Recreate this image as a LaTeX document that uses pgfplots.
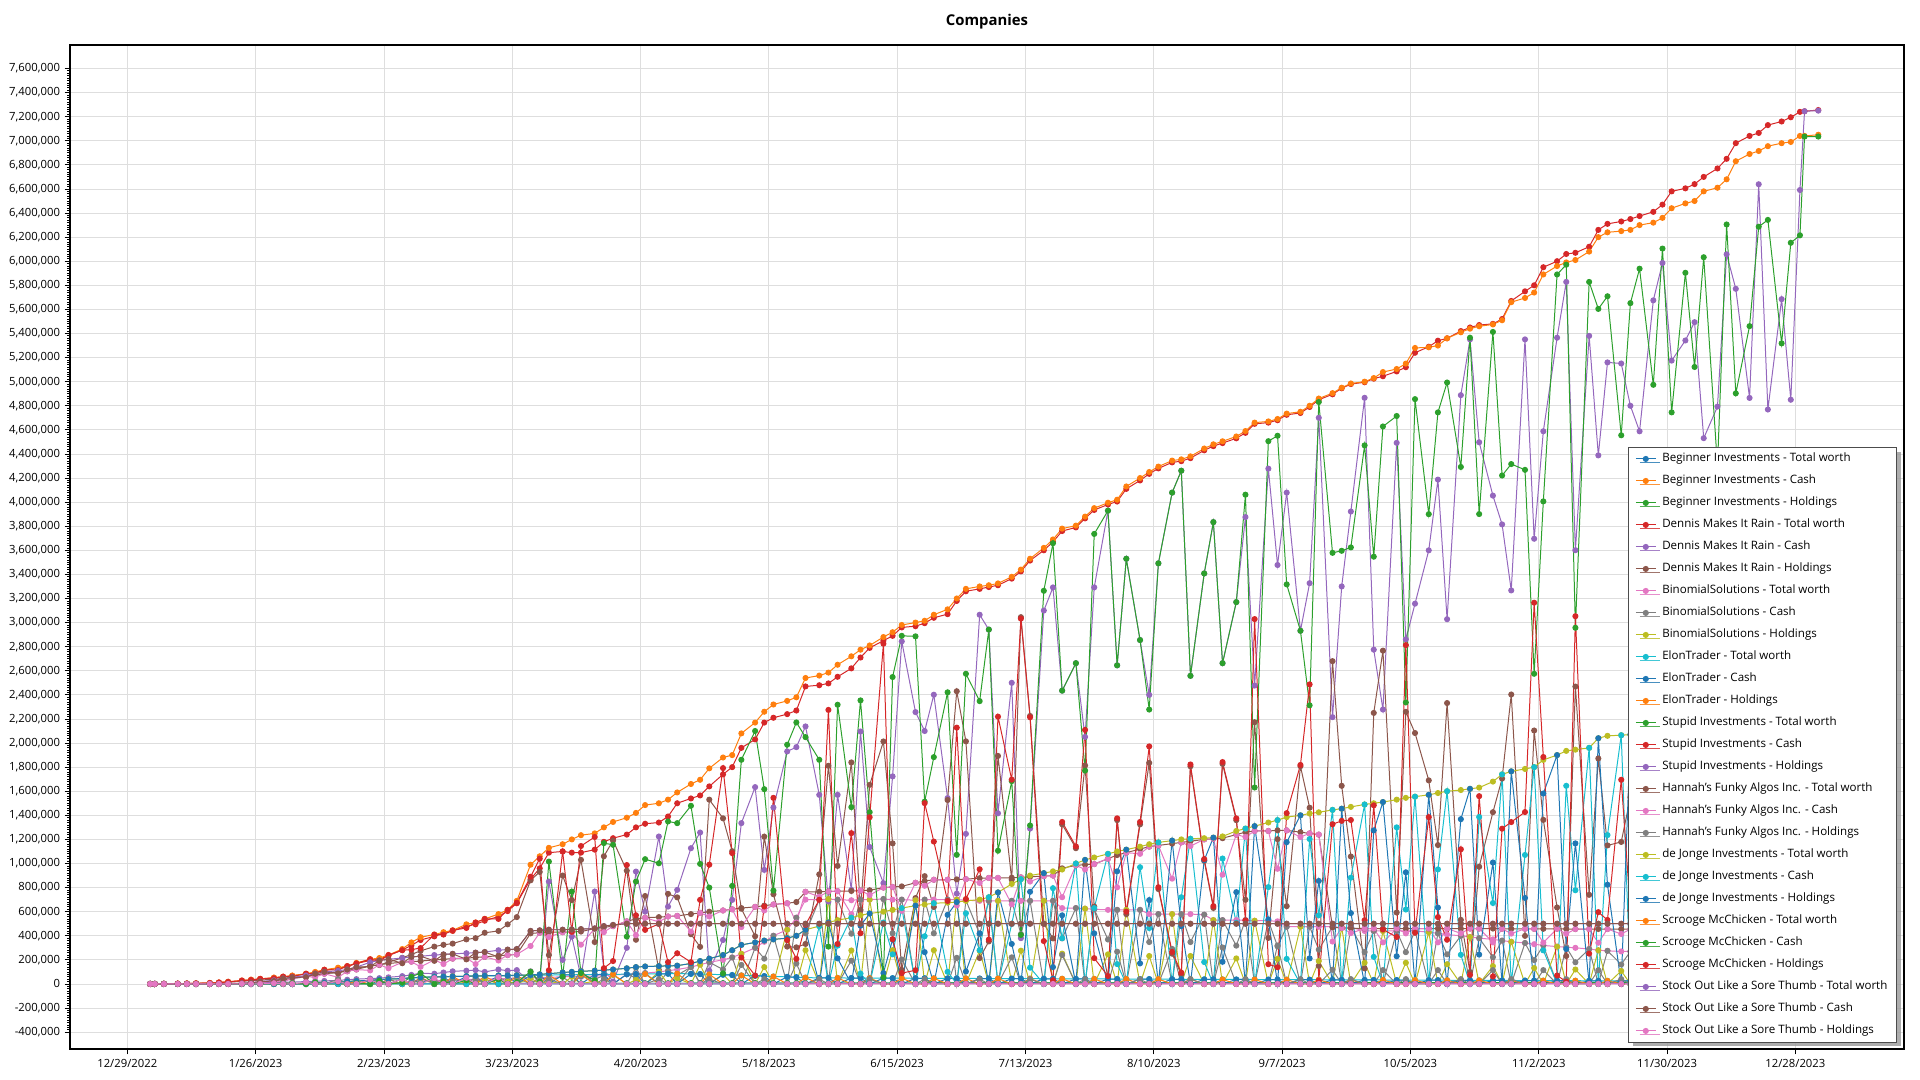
\documentclass[border=0pt]{standalone}
\usepackage{fontspec}
\setmainfont{Open Sans}
\usepackage{pgfplots}
\usepackage{pgfplotstable}
\pgfplotsset{compat=1.18}
\usetikzlibrary{shadows}
\definecolor{c0}{HTML}{1F77B4}
\definecolor{c1}{HTML}{FF7F0E}
\definecolor{c2}{HTML}{2CA02C}
\definecolor{c3}{HTML}{D62728}
\definecolor{c4}{HTML}{9467BD}
\definecolor{c5}{HTML}{8C564B}
\definecolor{c6}{HTML}{E377C2}
\definecolor{c7}{HTML}{7F7F7F}
\definecolor{c8}{HTML}{BCBD22}
\definecolor{c9}{HTML}{17BECF}
\pgfplotsset{ser/.style={color=#1, mark=*, mark size=1.9pt, line width=0.75pt, solid, mark options={solid}}}
% values in thousands; d = days after 12/29/2022
\pgfplotstableread{
d BIt BIc BIh DRt DRc DRh BSt BSc BSh ETt ETc ETh SIt SIc SIh HFt HFc HFh DJt DJc DJh SMt SMc SMh SOt SOc SOh
5 0 0 0 0 0 0 0 0 0 0 0 0 0 0 0 0 0 0 0 0 0 0 0 0 0 0 0
6 0 0 0 0 0 0 0 0 0 0 0 0 0 0 0 0 0 0 0 0 0 0 0 0 0 0 0
8 0 0 0 1 0 1 0 0 0 0 0 0 0 0 0 0 0 0 0 0 0 1 0 1 0 0 0
11 0 0 0 3 1 2 0 0 0 0 0 0 0 0 0 0 0 0 0 0 0 3 0 3 0 0 0
13 0 0 0 4 1 3 0 0 0 0 0 0 0 0 0 0 0 0 0 0 0 4 1 3 0 0 0
15 0 0 0 5 1 4 0 0 0 0 0 0 0 0 0 0 0 0 0 0 0 5 0 5 0 0 0
18 0 0 0 8 2 6 0 0 0 0 0 0 0 0 0 0 0 0 0 0 0 8 1 7 0 0 0
20 0 0 0 12 3 9 0 0 0 0 0 0 0 0 0 0 0 0 0 0 0 12 0 12 0 0 0
22 0 0 0 18 4 14 0 0 0 0 0 0 0 0 0 0 0 0 0 0 0 18 2 16 0 0 0
25 0 0 0 28 6 22 0 0 0 0 0 0 0 0 0 3 3 0 0 0 0 28 0 28 5 4 1
27 0 0 0 35 8 27 0 0 0 0 0 0 0 0 0 8 8 0 0 0 0 35 3 32 10 10 0
29 0 0 0 42 10 32 0 0 0 0 0 0 0 0 0 15 11 4 0 0 0 42 0 42 20 20 0
32 0 0 0 52 12 40 0 0 0 0 0 0 0 0 0 25 25 0 0 0 0 52 5 47 30 24 6
34 0 0 0 60 14 46 0 0 0 0 0 0 0 0 0 35 17 18 0 0 0 60 0 60 45 45 0
36 0 0 0 68 15 53 0 0 0 0 0 0 0 0 0 45 45 0 0 0 0 70 8 62 55 55 0
39 1 0 1 82 20 62 0 0 0 0 0 0 0 0 0 60 60 0 5 0 5 85 0 85 70 56 14
41 1 0 1 95 22 73 0 0 0 0 0 0 0 0 0 75 56 19 8 0 8 100 12 88 85 85 0
43 1 0 1 112 25 87 0 0 0 10 0 10 0 0 0 85 85 0 10 0 10 118 0 118 100 100 0
46 1 0 1 130 30 100 0 0 0 15 15 0 0 0 0 95 55 40 15 0 15 135 20 115 110 88 22
48 1 0 1 145 35 110 0 0 0 20 20 0 0 0 0 105 105 0 20 0 20 148 0 148 120 120 0
50 2 0 2 170 40 130 0 0 0 25 0 25 0 0 0 120 120 0 25 0 25 175 5 170 140 140 0
53 2 0 2 195 45 150 0 0 0 30 30 0 0 0 0 150 112 38 30 0 30 205 0 205 180 144 36
55 2 0 2 205 48 157 0 0 0 35 35 0 0 0 0 160 160 0 35 0 35 215 25 190 195 195 0
57 2 0 2 235 55 180 10 10 0 40 0 40 0 0 0 170 130 40 40 0 40 240 0 240 205 205 0
60 2 0 2 282 65 217 15 0 15 45 45 0 0 0 0 180 180 0 45 0 45 290 10 280 215 172 43
62 3 0 3 320 75 245 20 20 0 50 50 0 0 0 0 185 185 0 50 0 50 345 60 285 225 225 0
64 3 0 3 365 90 275 25 15 10 55 0 55 0 0 0 190 142 48 55 0 55 388 90 298 230 230 0
67 3 0 3 395 85 310 30 30 0 60 60 0 0 0 0 200 200 0 58 0 58 410 0 410 240 192 48
69 3 0 3 420 95 325 30 0 30 60 60 0 0 0 0 205 165 40 60 0 60 430 20 410 245 245 0
71 3 0 3 440 105 335 35 35 0 62 0 62 0 0 0 210 210 0 62 0 62 445 0 445 250 250 0
74 3 0 3 480 110 370 35 21 14 64 64 0 0 0 0 215 215 0 64 0 64 495 30 465 255 204 51
76 3 0 3 495 115 380 40 40 0 65 65 0 0 0 0 220 165 55 66 0 66 510 0 510 260 260 0
78 3 0 3 525 100 425 40 0 40 66 0 66 0 0 0 225 225 0 68 0 68 540 0 540 265 265 0
81 3 0 3 560 120 440 45 45 0 68 68 0 0 0 0 235 195 40 70 0 70 580 40 540 280 224 56
83 4 0 4 605 110 495 45 27 18 70 70 0 0 0 0 240 240 0 70 0 70 615 0 615 285 285 0
85 4 0 4 670 115 555 50 50 0 70 0 70 0 0 0 245 245 0 72 0 72 690 15 675 290 290 0
88 4 0 4 870 10 860 50 0 50 72 72 0 0 0 0 420 315 105 75 0 75 990 100 890 440 440 0
90 4 0 4 960 30 930 55 55 0 73 73 0 0 0 0 425 425 0 80 0 80 1060 20 1040 445 445 0
92 4 0 4 1090 850 240 55 33 22 74 0 74 0 0 0 430 390 40 85 0 85 1130 1016 114 450 450 0
95 4 0 4 1100 200 900 60 60 0 75 75 0 0 0 0 430 430 0 95 0 95 1160 60 1100 450 450 0
97 4 0 4 1090 393 697 60 0 60 76 76 0 0 0 0 432 432 0 100 0 100 1200 767 433 452 452 0
99 4 0 4 1090 60 1030 65 65 0 77 0 77 0 0 0 435 326 109 105 0 105 1235 90 1145 455 455 0
102 5 0 5 1115 767 348 65 39 26 78 78 0 0 0 0 460 460 0 110 0 110 1250 30 1220 460 460 0
104 5 0 5 1180 120 1060 70 70 0 79 79 0 0 0 0 470 430 40 115 0 115 1300 1169 131 480 480 0
106 5 0 5 1210 20 1190 75 0 75 80 0 80 0 0 0 480 480 0 120 0 120 1345 1155 190 490 490 0
109 5 0 5 1240 300 940 80 80 0 81 81 0 0 0 0 520 520 0 130 0 130 1380 393 987 500 500 0
111 5 0 5 1300 933 367 85 51 34 82 82 0 0 0 0 540 405 135 140 0 140 1420 850 570 500 500 0
113 5 0 5 1330 600 730 90 90 0 83 0 83 0 0 0 550 550 0 145 0 145 1485 1036 449 500 500 0
116 5 0 5 1340 1224 116 100 0 100 84 84 0 0 0 0 555 515 40 148 0 148 1500 1002 498 500 500 0
118 5 0 5 1390 642 748 110 110 0 85 85 0 0 0 0 560 560 0 150 0 150 1530 1349 181 500 500 0
120 5 0 5 1500 781 719 120 72 48 86 0 86 0 0 0 565 565 0 152 0 152 1590 1335 255 500 500 0
123 6 0 6 1540 1127 413 140 140 0 84 84 0 0 0 0 580 435 145 170 0 170 1660 1479 181 500 500 0
125 6 0 6 1565 1257 308 160 0 160 82 82 0 0 0 0 590 590 0 190 0 190 1695 997 698 500 500 0
127 6 0 6 1640 110 1530 180 180 0 80 0 80 0 0 0 600 560 40 210 0 210 1790 800 990 500 500 0
130 6 0 6 1740 365 1375 200 120 80 77 77 0 0 0 0 610 610 0 240 0 240 1880 88 1792 500 500 0
132 6 0 6 1800 698 1102 220 220 0 74 74 0 0 0 0 620 620 0 280 0 280 1900 814 1086 500 500 0
134 6 0 6 1960 1335 625 250 0 250 71 0 71 0 0 0 630 472 158 324 0 324 2080 1861 219 500 500 0
137 6 0 6 2030 1634 396 300 300 0 68 68 0 0 0 0 640 640 0 345 0 345 2170 2100 70 500 500 0
139 6 0 6 2170 947 1223 350 210 140 65 65 0 0 0 0 650 610 40 360 0 360 2260 1617 643 500 500 0
141 6 0 6 2210 1465 745 400 400 0 62 0 62 0 0 0 660 660 0 370 0 370 2320 775 1545 500 500 0
144 7 0 7 2240 1930 310 450 0 450 59 59 0 0 0 0 670 670 0 380 0 380 2350 1986 364 500 500 0
146 7 0 7 2270 1966 304 550 550 0 56 56 0 0 0 0 680 510 170 400 0 400 2380 2171 209 500 500 0
148 7 0 7 2470 2138 332 700 420 280 53 0 53 0 0 0 765 765 0 450 0 450 2540 2049 491 500 500 0
151 7 0 7 2480 1570 910 700 700 0 50 50 0 0 0 0 765 725 40 480 480 0 2560 1861 699 500 500 0
153 7 0 7 2495 684 1811 705 0 705 50 50 0 0 0 0 768 768 0 510 0 510 2585 310 2275 500 500 0
155 7 0 7 2550 1570 980 700 700 0 50 0 50 0 0 0 770 770 0 530 318 212 2650 2318 332 500 500 0
158 7 0 7 2620 781 1839 695 417 278 49 49 0 0 0 0 772 579 193 550 550 0 2720 1468 1252 500 500 0
160 7 0 7 2710 2096 614 700 700 0 49 49 0 0 0 0 775 775 0 570 86 484 2775 2354 421 500 500 0
162 7 0 7 2790 1137 1653 700 0 700 49 0 49 0 0 0 778 738 40 585 0 585 2810 1426 1384 500 500 0
165 7 0 7 2850 837 2013 705 705 0 48 48 0 0 0 0 800 800 0 600 510 90 2880 55 2825 500 500 0
167 7 0 7 2890 1723 1167 700 420 280 48 48 0 0 0 0 805 805 0 615 246 369 2920 2548 372 500 500 0
169 7 0 7 2960 2844 116 700 700 0 48 0 48 0 0 0 810 607 203 630 630 0 2980 2890 90 500 500 0
172 7 0 7 2970 2257 713 695 0 695 47 47 0 0 0 0 840 840 0 650 0 650 3000 2886 114 500 500 0
174 8 0 8 2995 2100 895 700 700 0 47 47 0 0 0 0 855 815 40 660 396 264 3015 1514 1501 500 500 0
176 8 0 8 3040 2401 639 700 420 280 47 0 47 0 0 0 865 865 0 670 670 0 3065 1883 1182 500 500 0
179 8 0 8 3070 1543 1527 700 700 0 46 46 0 0 0 0 865 865 0 675 101 574 3110 2421 689 500 500 0
181 8 0 8 3180 750 2430 700 0 700 46 46 0 0 0 0 868 651 217 680 0 680 3200 1072 2128 500 500 0
183 8 0 8 3260 1246 2014 695 695 0 46 0 46 0 0 0 870 870 0 690 587 103 3280 2575 705 500 500 0
186 8 0 8 3280 3065 215 690 414 276 45 45 0 0 0 0 878 838 40 700 280 420 3300 2348 952 500 500 0
188 8 0 8 3295 2942 353 690 690 0 45 45 0 0 0 0 880 880 0 720 720 0 3310 2942 368 500 500 0
190 8 0 8 3310 1417 1893 690 0 690 45 0 45 0 0 0 880 880 0 760 0 760 3325 1106 2219 500 500 0
193 8 0 8 3365 2500 865 690 690 0 44 44 0 0 0 0 882 661 221 830 498 332 3380 1684 1696 500 500 0
195 8 0 8 3425 380 3045 690 414 276 44 44 0 0 0 0 885 885 0 870 870 0 3440 407 3033 500 500 0
197 8 0 8 3515 1290 2225 690 690 0 44 0 44 0 0 0 890 850 40 900 135 765 3530 1316 2214 500 500 0
200 8 0 8 3600 3100 500 690 0 690 43 43 0 0 0 0 895 895 0 920 0 920 3620 3264 356 500 500 0
202 8 0 8 3670 3292 378 690 690 0 43 43 0 0 0 0 900 900 0 935 795 140 3690 3659 31 500 500 0
204 8 0 8 3760 2435 1325 630 378 252 43 0 43 0 0 0 960 720 240 950 380 570 3780 2435 1345 500 500 0
207 9 0 9 3790 2663 1127 630 630 0 42 42 0 0 0 0 985 985 0 1000 1000 0 3805 2663 1142 500 500 0
209 9 0 9 3865 2051 1814 625 0 625 42 42 0 0 0 0 990 950 40 1030 0 1030 3880 1771 2109 500 500 0
211 9 0 9 3935 3292 643 620 620 0 42 0 42 0 0 0 995 995 0 1050 630 420 3950 3736 214 500 500 0
214 9 0 9 3980 3929 51 615 369 246 41 41 0 0 0 0 1040 1040 0 1080 1080 0 3995 3929 66 500 500 0
216 9 0 9 4005 2645 1360 615 615 0 41 41 0 0 0 0 1070 802 268 1100 165 935 4020 2645 1375 500 500 0
218 9 0 9 4110 3530 580 615 0 615 41 0 41 0 0 0 1090 1090 0 1115 0 1115 4130 3530 600 500 500 0
221 9 0 9 4180 2855 1325 615 615 0 40 40 0 0 0 0 1120 1080 40 1140 969 171 4200 2855 1345 500 500 0
223 9 0 9 4235 2400 1835 580 348 232 40 40 0 0 0 0 1140 1140 0 1160 464 696 4250 2278 1972 500 500 0
225 9 0 9 4280 3492 788 580 580 0 40 0 40 0 0 0 1150 1150 0 1175 1175 0 4295 3492 803 500 500 0
228 9 0 9 4330 4079 251 580 0 580 39 39 0 0 0 0 1165 874 291 1190 0 1190 4345 4079 266 500 500 0
230 9 0 9 4340 4261 79 580 580 0 39 39 0 0 0 0 1175 1175 0 1200 720 480 4355 4261 94 500 500 0
232 9 0 9 4365 2558 1807 580 348 232 39 0 39 0 0 0 1185 1145 40 1205 1205 0 4380 2558 1822 500 500 0
235 9 0 9 4430 3408 1022 575 575 0 38 38 0 0 0 0 1200 1200 0 1210 182 1028 4445 3408 1037 500 500 0
237 10 0 10 4465 3834 631 530 0 530 38 38 0 0 0 0 1205 1205 0 1215 0 1215 4480 3834 646 500 500 0
239 10 0 10 4490 2663 1827 530 530 0 38 0 38 0 0 0 1210 907 303 1225 1041 184 4505 2663 1842 500 500 0
242 10 0 10 4530 3170 1360 530 318 212 37 37 0 0 0 0 1240 1240 0 1270 508 762 4545 3170 1375 500 500 0
244 10 0 10 4575 3876 699 530 530 0 37 37 0 0 0 0 1260 1220 40 1290 1290 0 4590 4062 528 500 500 0
246 10 0 10 4650 2477 2173 525 0 525 37 0 37 0 0 0 1270 1270 0 1310 0 1310 4660 1631 3029 500 500 0
249 10 0 10 4660 4278 382 525 525 0 36 36 0 0 0 0 1270 1270 0 1340 804 536 4670 4506 164 500 500 0
251 10 0 10 4680 3478 1202 520 312 208 36 36 0 0 0 0 1275 956 319 1360 1360 0 4690 4551 139 500 500 0
253 10 0 10 4725 4079 646 475 475 0 36 0 36 0 0 0 1275 1275 0 1385 208 1177 4735 3317 1418 500 500 0
256 10 0 10 4740 2932 1808 475 0 475 35 35 0 0 0 0 1260 1220 40 1400 0 1400 4750 2932 1818 500 500 0
258 10 0 10 4790 3327 1463 475 475 0 35 35 0 0 0 0 1250 1250 0 1415 1203 212 4800 2313 2487 500 500 0
260 10 0 10 4850 4700 150 475 285 190 35 0 35 0 0 0 1240 1240 0 1425 570 855 4860 4831 29 500 500 0
263 10 0 10 4895 2215 2680 475 475 0 34 34 0 0 0 0 470 352 118 1445 1445 0 4905 3579 1326 500 500 0
265 10 0 10 4945 3300 1645 470 0 470 34 34 0 0 0 0 465 465 0 1455 0 1455 4950 3596 1354 500 500 0
267 10 0 10 4980 3922 1058 470 470 0 34 0 34 0 0 0 462 422 40 1470 882 588 4985 3624 1361 500 500 0
270 11 0 11 4995 4866 129 440 264 176 33 33 0 0 0 0 460 460 0 1490 1490 0 5000 4471 529 500 500 0
272 11 0 11 5025 2775 2250 440 440 0 33 33 0 0 0 0 460 460 0 1500 225 1275 5030 3547 1483 500 500 0
274 11 0 11 5045 2278 2767 440 0 440 33 0 33 0 0 0 460 345 115 1510 0 1510 5080 4628 452 500 500 0
277 11 0 11 5085 4492 593 440 440 0 32 32 0 0 0 0 460 460 0 1530 1300 230 5105 4715 390 500 500 0
279 11 0 11 5120 2861 2259 440 264 176 32 32 0 0 0 0 460 420 40 1545 618 927 5150 2337 2813 500 500 0
281 11 0 11 5240 3157 2083 440 440 0 32 0 32 0 0 0 460 460 0 1555 1555 0 5280 4855 425 500 500 0
284 11 0 11 5290 3600 1690 430 0 430 31 31 0 0 0 0 460 460 0 1570 0 1570 5285 3900 1385 500 500 0
286 11 0 11 5340 4187 1153 420 420 0 31 31 0 0 0 0 460 345 115 1585 951 634 5300 4745 555 500 500 0
288 11 0 11 5360 3028 2332 410 246 164 31 0 31 0 0 0 460 460 0 1600 1600 0 5360 4993 367 500 500 0
291 11 0 11 5420 4888 532 400 400 0 30 30 0 0 0 0 460 420 40 1610 242 1368 5410 4292 1118 500 500 0
293 11 0 11 5450 5351 99 390 0 390 30 30 0 0 0 0 460 460 0 1620 0 1620 5440 5365 75 500 500 0
295 11 0 11 5470 4497 973 380 380 0 30 0 30 0 0 0 460 460 0 1630 1386 244 5460 3901 1559 500 500 0
298 11 0 11 5480 4054 1426 370 222 148 29 29 0 0 0 0 460 345 115 1680 672 1008 5475 5413 62 500 500 0
300 12 0 12 5520 3815 1705 360 360 0 29 29 0 0 0 0 458 458 0 1740 1740 0 5510 4221 1289 500 500 0
302 12 0 12 5670 3267 2403 350 0 350 29 0 29 0 0 0 458 418 40 1765 0 1765 5660 4316 1344 500 500 0
305 12 0 12 5750 5351 399 340 340 0 28 28 0 0 0 0 458 458 0 1785 1071 714 5695 4268 1427 500 500 0
307 12 0 12 5800 3696 2104 330 198 132 28 28 0 0 0 0 458 458 0 1800 1800 0 5740 2575 3165 500 500 0
309 12 0 12 5950 4588 1362 320 320 0 28 0 28 0 0 0 458 343 115 1860 279 1581 5890 4006 1884 500 500 0
312 12 0 12 6000 5365 635 310 0 310 27 27 0 0 0 0 458 458 0 1900 0 1900 5960 5890 70 500 500 0
314 12 0 12 6060 5828 232 305 305 0 27 27 0 0 0 0 456 416 40 1935 1645 290 5990 5971 19 500 500 0
316 12 0 12 6070 3601 2469 300 180 120 27 0 27 0 0 0 456 456 0 1945 778 1167 6010 2957 3053 500 500 0
319 12 0 12 6120 5380 740 290 290 0 26 26 0 0 0 0 456 456 0 1960 1960 0 6080 5828 252 500 500 0
321 12 0 12 6260 4388 1872 280 0 280 26 26 0 0 0 0 456 342 114 2040 0 2040 6200 5604 596 500 500 0
323 12 0 12 6310 5160 1150 275 275 0 26 0 26 0 0 0 456 456 0 2060 1236 824 6240 5709 531 500 500 0
326 12 0 12 6330 5151 1179 270 162 108 25 25 0 0 0 0 455 415 40 2065 2065 0 6250 4555 1695 500 500 0
328 12 0 12 6350 4800 1550 270 270 0 25 25 0 0 0 0 455 455 0 2070 0 2070 6260 5652 608 500 500 0
330 13 0 13 6375 4588 1787 270 270 0 25 25 0 0 0 0 455 455 0 2075 2075 0 6300 5938 362 500 500 0
333 13 0 13 6410 5675 735 268 268 0 24 24 0 0 0 0 454 454 0 2080 0 2080 6320 4974 1346 500 500 0
335 13 0 13 6470 5985 485 268 268 0 24 24 0 0 0 0 454 454 0 2090 2090 0 6360 6105 255 500 500 0
337 13 0 13 6580 5175 1405 265 265 0 24 24 0 0 0 0 454 454 0 2100 0 2100 6440 4745 1695 500 500 0
340 13 0 13 6605 5342 1263 265 265 0 23 23 0 0 0 0 453 453 0 2110 2110 0 6480 5904 576 500 500 0
342 13 0 13 6640 5494 1146 262 262 0 23 23 0 0 0 0 453 453 0 2120 0 2120 6500 5122 1378 500 500 0
344 13 0 13 6700 4531 2169 262 262 0 23 23 0 0 0 0 453 453 0 2125 2125 0 6580 6033 547 500 500 0
347 13 0 13 6770 4793 1977 260 260 0 22 22 0 0 0 0 452 452 0 2135 0 2135 6610 4300 2310 500 500 0
349 13 0 13 6850 6057 793 260 260 0 22 22 0 0 0 0 452 452 0 2145 2145 0 6680 6305 375 500 500 0
351 13 0 13 6980 5771 1209 258 258 0 22 22 0 0 0 0 452 452 0 2150 0 2150 6830 4903 1927 500 500 0
354 13 0 13 7040 4865 2175 258 258 0 21 21 0 0 0 0 451 451 0 2160 2160 0 6890 5461 1429 500 500 0
356 13 0 13 7065 6639 426 255 255 0 21 21 0 0 0 0 451 451 0 2165 0 2165 6915 6286 629 500 500 0
358 14 0 14 7130 4769 2361 255 255 0 21 21 0 0 0 0 451 451 0 2175 2175 0 6955 6343 612 500 500 0
361 14 0 14 7160 5685 1475 252 252 0 20 20 0 0 0 0 450 450 0 2180 0 2180 6980 5318 1662 500 500 0
363 14 0 14 7195 4850 2345 252 252 0 20 20 0 0 0 0 450 450 0 2190 2190 0 6990 6153 837 500 500 0
365 14 0 14 7240 6591 649 250 250 0 20 20 0 0 0 0 450 450 0 2195 0 2195 7040 6215 825 500 500 0
366 14 0 14 7245 7245 0 250 250 0 20 20 0 0 0 0 450 450 0 2195 2195 0 7040 7035 5 500 500 0
369 14 0 14 7255 7250 5 250 250 0 20 20 0 0 0 0 450 450 0 2200 2200 0 7050 7035 15 500 500 0
}\data

\begin{document}
\begin{tikzpicture}
\path[use as bounding box] (0,0) rectangle (1440bp,810bp);
\begin{axis}[
  at={(52.5bp,23.25bp)}, anchor=south west,
  scale only axis, width=1375.5bp, height=753bp,
  xmin=-12.5, xmax=387.7, ymin=-540, ymax=7795,
  xtick={0,28,...,364},
  xticklabels={12/29/2022,1/26/2023,2/23/2023,3/23/2023,4/20/2023,5/18/2023,6/15/2023,7/13/2023,8/10/2023,9/7/2023,10/5/2023,11/2/2023,11/30/2023,12/28/2023},
  ytick={-400,-200,...,7600},
  minor y tick num=9,
  yticklabel={\pgfkeys{/pgf/fpu=true}\pgfmathparse{\tick*1000}\pgfmathprintnumber[fixed,precision=0,1000 sep={,},assume math mode=true]{\pgfmathresult}},
  tick pos=left, tick align=outside,
  major tick length=4bp, minor tick length=2.2bp,
  tick style={black, line width=0.6pt},
  grid=major, major grid style={draw=black!13, line width=0.6pt},
  axis line style={black, line width=1.1pt},
  ticklabel style={font=\fontsize{8.5}{9.5}\selectfont, text=black},
  title={Companies},
  title style={font=\bfseries\fontsize{11.2}{13}\selectfont, at={(0.5,1)}, anchor=center, yshift=11.4bp},
  legend cell align=left,
  legend image code/.code={\draw[mark repeat=2,mark phase=2,#1] plot coordinates {(0bp,0bp) (7.5bp,0bp) (15bp,0bp)};},
  legend style={at={(0.8495,0.5996)}, anchor=north west, draw=black!70, line width=1bp, fill=white,
    font=\fontsize{8.7}{10}\selectfont, row sep=5.6bp, column sep=2.5bp, inner xsep=5bp, inner ysep=3bp,
    nodes={inner xsep=2bp, inner ysep=1.5bp, text height=6.2bp, text depth=1.7bp},
    drop shadow={shadow xshift=3bp, shadow yshift=-3bp, fill=black!40, opacity=0.8}},
]
\addplot[ser=c0] table[x=d,y=BIt]{\data}; \addlegendentry{Beginner Investments - Total worth}
\addplot[ser=c1] table[x=d,y=BIc]{\data}; \addlegendentry{Beginner Investments - Cash}
\addplot[ser=c2] table[x=d,y=BIh]{\data}; \addlegendentry{Beginner Investments - Holdings}
\addplot[ser=c3] table[x=d,y=DRt]{\data}; \addlegendentry{Dennis Makes It Rain - Total worth}
\addplot[ser=c4] table[x=d,y=DRc]{\data}; \addlegendentry{Dennis Makes It Rain - Cash}
\addplot[ser=c5] table[x=d,y=DRh]{\data}; \addlegendentry{Dennis Makes It Rain - Holdings}
\addplot[ser=c6] table[x=d,y=BSt]{\data}; \addlegendentry{BinomialSolutions - Total worth}
\addplot[ser=c7] table[x=d,y=BSc]{\data}; \addlegendentry{BinomialSolutions - Cash}
\addplot[ser=c8] table[x=d,y=BSh]{\data}; \addlegendentry{BinomialSolutions - Holdings}
\addplot[ser=c9] table[x=d,y=ETt]{\data}; \addlegendentry{ElonTrader - Total worth}
\addplot[ser=c0] table[x=d,y=ETc]{\data}; \addlegendentry{ElonTrader - Cash}
\addplot[ser=c1] table[x=d,y=ETh]{\data}; \addlegendentry{ElonTrader - Holdings}
\addplot[ser=c2] table[x=d,y=SIt]{\data}; \addlegendentry{Stupid Investments - Total worth}
\addplot[ser=c3] table[x=d,y=SIc]{\data}; \addlegendentry{Stupid Investments - Cash}
\addplot[ser=c4] table[x=d,y=SIh]{\data}; \addlegendentry{Stupid Investments - Holdings}
\addplot[ser=c5] table[x=d,y=HFt]{\data}; \addlegendentry{Hannah's Funky Algos Inc. - Total worth}
\addplot[ser=c6] table[x=d,y=HFc]{\data}; \addlegendentry{Hannah's Funky Algos Inc. - Cash}
\addplot[ser=c7] table[x=d,y=HFh]{\data}; \addlegendentry{Hannah's Funky Algos Inc. - Holdings}
\addplot[ser=c8] table[x=d,y=DJt]{\data}; \addlegendentry{de Jonge Investments - Total worth}
\addplot[ser=c9] table[x=d,y=DJc]{\data}; \addlegendentry{de Jonge Investments - Cash}
\addplot[ser=c0] table[x=d,y=DJh]{\data}; \addlegendentry{de Jonge Investments - Holdings}
\addplot[ser=c1] table[x=d,y=SMt]{\data}; \addlegendentry{Scrooge McChicken - Total worth}
\addplot[ser=c2] table[x=d,y=SMc]{\data}; \addlegendentry{Scrooge McChicken - Cash}
\addplot[ser=c3] table[x=d,y=SMh]{\data}; \addlegendentry{Scrooge McChicken - Holdings}
\addplot[ser=c4] table[x=d,y=SOt]{\data}; \addlegendentry{Stock Out Like a Sore Thumb - Total worth}
\addplot[ser=c5] table[x=d,y=SOc]{\data}; \addlegendentry{Stock Out Like a Sore Thumb - Cash}
\addplot[ser=c6] table[x=d,y=SOh]{\data}; \addlegendentry{Stock Out Like a Sore Thumb - Holdings}
\end{axis}
\end{tikzpicture}
\end{document}
